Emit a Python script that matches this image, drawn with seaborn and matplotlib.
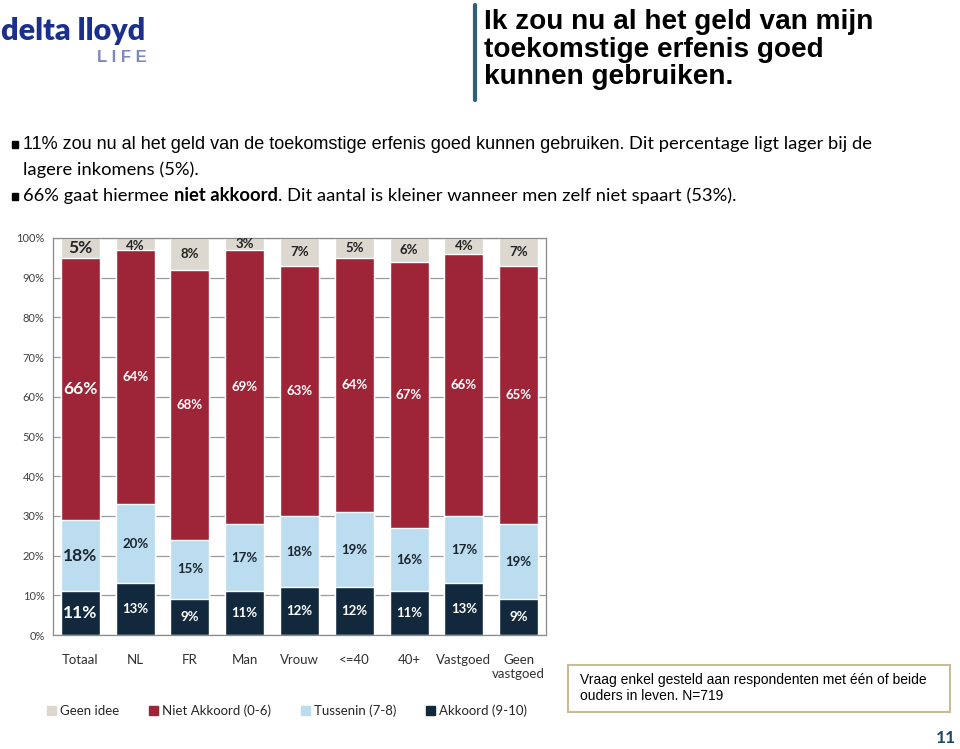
import numpy as np
import pandas as pd
import matplotlib
matplotlib.use("Agg")
import matplotlib.pyplot as plt
import seaborn as sns
from matplotlib.patches import Rectangle

# data
categories = ["Totaal", "NL", "FR", "Man", "Vrouw", "<=40", "40+", "Vastgoed", "Geen\nvastgoed"]
akkoord = [11, 13, 9, 11, 12, 12, 11, 13, 9]
tussenin = [18, 20, 15, 17, 18, 19, 16, 17, 19]
niet_akkoord = [66, 64, 68, 69, 63, 64, 67, 66, 65]
geen_idee = [5, 4, 8, 3, 7, 5, 6, 4, 7]
series_names = ["Geen idee", "Niet Akkoord (0-6)", "Tussenin (7-8)", "Akkoord (9-10)"]
yticks = [0, 10, 20, 30, 40, 50, 60, 70, 80, 90, 100]

colors = {"Geen idee": "#DCD8CF", "Niet Akkoord (0-6)": "#9E2537",
          "Tussenin (7-8)": "#BCDCF0", "Akkoord (9-10)": "#12293D"}
label_colors = {"Geen idee": "#222222", "Niet Akkoord (0-6)": "white",
                "Tussenin (7-8)": "#1A2530", "Akkoord (9-10)": "white"}

df = pd.DataFrame({"cat": categories, "Akkoord (9-10)": akkoord, "Tussenin (7-8)": tussenin,
                   "Niet Akkoord (0-6)": niet_akkoord, "Geen idee": geen_idee})
stack_order = ["Akkoord (9-10)", "Tussenin (7-8)", "Niet Akkoord (0-6)", "Geen idee"]
cum = df[stack_order].cumsum(axis=1)

sns.set_style("white")
plt.rcParams["font.family"] = ["Liberation Sans", "DejaVu Sans"]

fig = plt.figure(figsize=(9.6, 7.49), dpi=100)
W, H = 960, 749


def fx(px):
    return px / W


def fy(py):
    return 1 - py / H


ax = fig.add_axes([fx(53), fy(635), fx(546) - fx(53), fy(238) - fy(635)])

# draw tallest cumulative first so lower layers overdraw
for name in stack_order[::-1]:
    sns.barplot(x=df["cat"], y=cum[name], color=colors[name], width=0.71,
                saturation=1, ax=ax, zorder=2)

# value labels at segment centres
for i in range(len(categories)):
    lower = 0
    for name in stack_order:
        v = df[name][i]
        mid = min(lower + v / 2, 100 - v / 2) if name == "Geen idee" else lower + v / 2
        size = 12.5 if i == 0 else 9.5
        ax.text(i, mid, f"{v}%", ha="center", va="center", fontsize=size,
                fontweight="bold", color=label_colors[name], family=["Lato", "DejaVu Sans"], zorder=5)
        lower += v

ax.set_ylim(0, 100)
ax.set_xlim(-0.5, len(categories) - 0.5)
ax.set_yticks(yticks)
ax.set_yticklabels([f"{t}%" for t in yticks], fontsize=8, color="#404040", family=["Lato", "DejaVu Sans"])
ax.yaxis.grid(True, color="#9A9A9A", linewidth=0.9, zorder=0)
ax.set_axisbelow(True)
ax.set_xlabel("")
ax.set_ylabel("")
ax.tick_params(axis="y", length=4, color="#9A9A9A", pad=2)
ax.set_xticks(range(len(categories)))
ax.set_xticklabels(categories, fontsize=9.5, color="#303030", family=["Lato", "DejaVu Sans"])
ax.tick_params(axis="x", length=0, pad=14)
ax.set_xticks(np.arange(-0.5, len(categories), 1), minor=True)
ax.tick_params(axis="x", which="minor", length=5, color="#9A9A9A")
for s in ax.spines.values():
    s.set_color("#8A8A8A")
    s.set_linewidth(0.9)

# legend
handles = [Rectangle((0, 0), 1, 1, color=colors[n]) for n in series_names]
fig.legend(handles, series_names, loc="center left", bbox_to_anchor=(fx(35), fy(711)),
           ncol=4, frameon=False, handlelength=0.7, handleheight=0.7,
           handletextpad=0.3, columnspacing=2.25, prop={"family": ["Lato", "DejaVu Sans"], "size": 9.5})

# logo
fig.text(fx(1), fy(31), "delta lloyd", fontsize=22, fontweight="heavy", color="#1B2F8C", va="center", ha="left",
         family=["Lato", "DejaVu Sans"])
fig.text(fx(147), fy(57), "L I F E", fontsize=12, fontweight="bold", color="#7E87BE", va="center", ha="right")

# title + divider
fig.add_artist(plt.Line2D([fx(475), fx(475)], [fy(5), fy(100)], color="#2E5E78", linewidth=3))
fig.text(fx(484), fy(9), "Ik zou nu al het geld van mijn\ntoekomstige erfenis goed\nkunnen gebruiken.",
         fontsize=20.2, fontweight="bold", color="black", va="top", ha="left", linespacing=1.08)

# bullets
renderer = fig.canvas.get_renderer()


def chain(x, y, parts):
    # place text pieces one after another on the same baseline
    for txt, kw in parts:
        t = fig.text(fx(x), fy(y), txt, va="baseline", ha="left", **kw)
        bb = t.get_window_extent(renderer=renderer)
        x += bb.width * W / (fig.get_figwidth() * fig.dpi)
    return x


arial = dict(fontsize=13, color="black", family=["Liberation Sans", "DejaVu Sans"])
cal = dict(fontsize=13.25, color="black", family=["Lato", "DejaVu Sans"])
calb = dict(fontsize=13.25, color="black", fontweight="bold", family=["Lato", "DejaVu Sans"])

for by in (144, 196):
    fig.add_artist(Rectangle((fx(12), fy(by + 4)), fx(6), fy(0) - fy(7), transform=fig.transFigure,
                             color="black"))

chain(23, 149, [("11% zou nu al het geld van de toekomstige erfenis goed kunnen gebruiken. ", arial),
                ("Dit percentage ligt lager bij de", cal)])
chain(23, 175, [("lagere inkomens (5%).", cal)])
chain(23, 201, [("66% gaat hiermee ", cal), ("niet akkoord", calb),
                (". Dit aantal is kleiner wanneer men zelf niet spaart (53%).", cal)])

# footnote box
fig.add_artist(Rectangle((fx(568), fy(712)), fx(950) - fx(568), fy(665) - fy(712),
                         transform=fig.transFigure, facecolor="white", edgecolor="#C8BC94", linewidth=1.5))
fig.text(fx(580), fy(688), "Vraag enkel gesteld aan respondenten met één of beide\nouders in leven. N=719",
         fontsize=10, va="center", ha="left", color="black", linespacing=1.1)

fig.text(fx(956), fy(738), "11", fontsize=12.5, fontweight="bold", color="#1F4A63", va="center", ha="right",
         family=["Lato", "DejaVu Sans"])

fig.savefig("out.png", dpi=100)
